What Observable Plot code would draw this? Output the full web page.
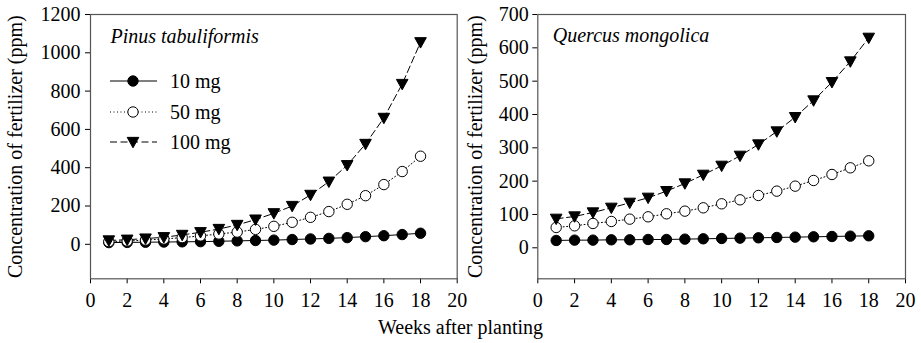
<!DOCTYPE html>
<html>
<head>
<meta charset="utf-8">
<script src="https://cdn.jsdelivr.net/npm/d3@7"></script>
<script src="https://cdn.jsdelivr.net/npm/@observablehq/plot@0.6"></script>
<style>
  html, body { margin: 0; padding: 0; background: white; }
  #wrap { position: relative; width: 921px; height: 343px; overflow: hidden; background: white; font-family: 'Liberation Serif', 'Times New Roman', serif; }
  #left, #right { position: absolute; top: 0; }
  #left { left: 0; }
  #right { left: 460px; }
  #xtitle { position: absolute; left: 0; width: 921px; top: 315px; text-align: center; font-size: 20px; line-height: 24px; color: black; }
  #legend { position: absolute; left: 108px; top: 66px; font-size: 20px; color: black; }
  .row { position: absolute; left: 0; height: 30px; width: 140px; }
  .row svg { position: absolute; left: 0; top: 0; }
  .row span { position: absolute; left: 62px; top: 3px; line-height: 24px; white-space: nowrap; }
</style>
</head>
<body>
<div id="wrap">
  <div id="left"></div>
  <div id="right"></div>
  <div id="legend"></div>
  <div id="xtitle">Weeks after planting</div>
</div>
<script>
// ---- data ----
const weeks = [1,2,3,4,5,6,7,8,9,10,11,12,13,14,15,16,17,18];
const doses = ["10 mg", "50 mg", "100 mg"];
const species = ["Pinus tabuliformis", "Quercus mongolica"];

const pinus10  = [9,10,11,12,13,14,16,18,20,22,25,28,31,35,40,45,51,58];
const pinus50  = [14,17,22,28,35,44,54,64,78,94,115,141,171,209,254,312,380,460];
const pinus100 = [20,24,30,37,49,63,80,101,129,162,200,258,327,413,524,660,837,1055];

const quercus10  = [22,23,23,24,24,25,25,26,27,28,29,30,31,32,33,34,35,36];
const quercus50  = [61,66,73,79,86,93,102,110,120,132,144,157,170,185,202,220,240,261];
const quercus100 = [87,94,106,120,135,150,170,193,219,246,276,310,349,392,442,497,559,630];

const xTicks = [0,2,4,6,8,10,12,14,16,18,20];
const pinusTicks = [0,200,400,600,800,1000,1200];
const quercusTicks = [0,100,200,300,400,500,600,700];
const yTitle = "Concentration of fertilizer (ppm)";

// ---- styles ----
const font = "'Liberation Serif', 'Times New Roman', serif";
const triangleDown = {
  draw(context, size) {
    const r = Math.sqrt(size / Math.PI);
    context.moveTo(-r, -r * 0.8);
    context.lineTo(r, -r * 0.8);
    context.lineTo(0, r * 1.0);
    context.closePath();
  }
};
const seriesStyle = {
  "10 mg":  {dash: null,   symbol: "circle", fill: "black", r: 5.2},
  "50 mg":  {dash: "1,2.5", symbol: "circle", fill: "white", r: 5.2},
  "100 mg": {dash: "7,3.5", symbol: triangleDown, fill: "black", r: 5.8}
};

function makeTable(vals) {
  return weeks.map((w, i) => ({week: w, value: vals[i]}));
}

function panel({series, yDomain, yTicks, width, marginLeft, marginRight, labelOffset, tickPadY, name, dx, dy}) {
  const marks = [Plot.frame({stroke: "#555", strokeWidth: 1.2})];
  doses.forEach((d, k) => {
    const st = seriesStyle[d];
    const data = makeTable(series[k]);
    marks.push(Plot.line(data, {x: "week", y: "value", stroke: "black", strokeWidth: 1, strokeDasharray: st.dash || undefined}));
  });
  doses.forEach((d, k) => {
    const st = seriesStyle[d];
    const data = makeTable(series[k]);
    marks.push(Plot.dot(data, {x: "week", y: "value", r: st.r, symbol: st.symbol, fill: st.fill, stroke: "black", strokeWidth: 1}));
  });
  marks.push(Plot.text([name], {frameAnchor: "top-left", dx, dy, textAnchor: "start", lineAnchor: "top", fontStyle: "italic", fontSize: 20}));
  return Plot.plot({
    width, height: 315,
    marginLeft, marginRight, marginTop: 14, marginBottom: 36.7,
    style: {fontFamily: font, fontSize: "20px", color: "black", background: "transparent", overflow: "visible"},
    x: {domain: [0, 20], ticks: xTicks, tickSize: 5, tickPadding: 9, tickFormat: d => String(d), label: null},
    y: {domain: yDomain, ticks: yTicks, tickSize: 5, tickPadding: tickPadY, tickFormat: d => String(d),
        label: yTitle, labelAnchor: "center", labelArrow: "none", labelOffset},
    marks
  });
}

const left = panel({
  series: [pinus10, pinus50, pinus100], yDomain: [-180, 1200], yTicks: pinusTicks,
  width: 460, marginLeft: 90, marginRight: 3.3, labelOffset: 83, tickPadY: 5,
  name: species[0], dx: 20, dy: 14
});
const right = panel({
  series: [quercus10, quercus50, quercus100], yDomain: [-93, 700], yTicks: quercusTicks,
  width: 461, marginLeft: 77.3, marginRight: 16, labelOffset: 70, tickPadY: 4,
  name: species[1], dx: 15, dy: 13
});
document.getElementById("left").appendChild(left);
document.getElementById("right").appendChild(right);

// ---- legend ----
const legend = document.getElementById("legend");
doses.forEach((d, k) => {
  const st = seriesStyle[d];
  const row = document.createElement("div");
  row.className = "row";
  row.style.top = (k * 30.5) + "px";
  const svg = d3.create("svg").attr("width", 56).attr("height", 30).style("overflow", "visible");
  svg.append("line").attr("x1", 2).attr("x2", 49).attr("y1", 15).attr("y2", 15)
    .attr("stroke", "black").attr("stroke-width", 1).attr("stroke-dasharray", st.dash);
  const sym = st.symbol === "circle" ? d3.symbolCircle : st.symbol;
  svg.append("path").attr("transform", "translate(25,15)")
    .attr("d", d3.symbol(sym, Math.PI * st.r * st.r)())
    .attr("fill", st.fill).attr("stroke", "black").attr("stroke-width", 1);
  row.appendChild(svg.node());
  const span = document.createElement("span");
  span.textContent = d;
  row.appendChild(span);
  legend.appendChild(row);
});
</script>
</body>
</html>
